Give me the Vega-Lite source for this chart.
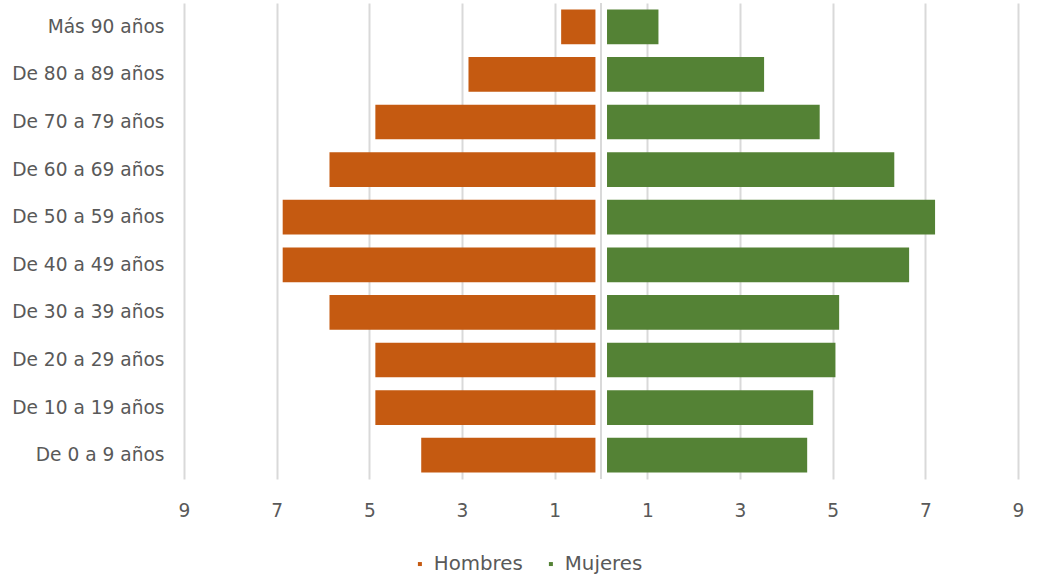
{
  "$schema": "https://vega.github.io/schema/vega-lite/v6.json",
  "width": 834,
  "height": 476,
  "autosize": {"type": "none"},
  "padding": {"left": 184, "top": 3, "right": 21, "bottom": 102},
  "background": "white",
  "config": {
    "view": {"stroke": null},
    "font": "DejaVu Sans"
  },
  "data": {
    "values": [
      {"edad": "Más 90 años", "sexo": "Hombres", "valor": 0.86},
      {"edad": "De 80 a 89 años", "sexo": "Hombres", "valor": 2.86},
      {"edad": "De 70 a 79 años", "sexo": "Hombres", "valor": 4.87},
      {"edad": "De 60 a 69 años", "sexo": "Hombres", "valor": 5.86},
      {"edad": "De 50 a 59 años", "sexo": "Hombres", "valor": 6.87},
      {"edad": "De 40 a 49 años", "sexo": "Hombres", "valor": 6.87},
      {"edad": "De 30 a 39 años", "sexo": "Hombres", "valor": 5.86},
      {"edad": "De 20 a 29 años", "sexo": "Hombres", "valor": 4.87},
      {"edad": "De 10 a 19 años", "sexo": "Hombres", "valor": 4.87},
      {"edad": "De 0 a 9 años", "sexo": "Hombres", "valor": 3.88},
      {"edad": "Más 90 años", "sexo": "Mujeres", "valor": 1.24},
      {"edad": "De 80 a 89 años", "sexo": "Mujeres", "valor": 3.52},
      {"edad": "De 70 a 79 años", "sexo": "Mujeres", "valor": 4.72},
      {"edad": "De 60 a 69 años", "sexo": "Mujeres", "valor": 6.33},
      {"edad": "De 50 a 59 años", "sexo": "Mujeres", "valor": 7.21},
      {"edad": "De 40 a 49 años", "sexo": "Mujeres", "valor": 6.65},
      {"edad": "De 30 a 39 años", "sexo": "Mujeres", "valor": 5.14},
      {"edad": "De 20 a 29 años", "sexo": "Mujeres", "valor": 5.06},
      {"edad": "De 10 a 19 años", "sexo": "Mujeres", "valor": 4.58},
      {"edad": "De 0 a 9 años", "sexo": "Mujeres", "valor": 4.45}
    ]
  },
  "encoding": {
    "y": {
      "field": "edad",
      "type": "nominal",
      "sort": ["Más 90 años", "De 80 a 89 años", "De 70 a 79 años", "De 60 a 69 años", "De 50 a 59 años", "De 40 a 49 años", "De 30 a 39 años", "De 20 a 29 años", "De 10 a 19 años", "De 0 a 9 años"],
      "scale": {"paddingInner": 0.27, "paddingOuter": 0.135},
      "axis": {
        "title": null,
        "domain": false,
        "ticks": false,
        "grid": false,
        "labelFont": "DejaVu Sans",
        "labelFontSize": 18.6,
        "labelColor": "#595959",
        "labelPadding": 20
      }
    }
  },
  "layer": [
    {
      "mark": {"type": "rule", "color": "#D9D9D9", "strokeWidth": 2},
      "encoding": {
        "x": {"datum": 0, "type": "quantitative"},
        "y": null
      }
    },
    {
      "transform": [
        {"filter": "datum.sexo === 'Hombres'"},
        {"calculate": "-datum.valor", "as": "posicion"}
      ],
      "mark": {"type": "bar"},
      "encoding": {
        "x": {
          "field": "posicion",
          "type": "quantitative",
          "scale": {"domain": [-9, 9], "nice": false, "zero": false},
          "axis": {
            "title": null,
            "values": [-9, -7, -5, -3, -1, 1, 3, 5, 7, 9],
            "labelExpr": "format(abs(datum.value), 'd')",
            "labelFlush": false,
            "labelOverlap": false,
            "domain": false,
            "ticks": false,
            "grid": true,
            "gridColor": "#D9D9D9",
            "gridWidth": 2,
            "labelFont": "DejaVu Sans",
            "labelFontSize": 18.6,
            "labelColor": "#595959",
            "labelPadding": 22
          }
        },
        "x2": {"datum": -0.12},
        "color": {
          "field": "sexo",
          "type": "nominal",
          "scale": {"domain": ["Hombres", "Mujeres"], "range": ["#C55A11", "#548235"]},
          "legend": {
            "title": null,
            "orient": "none",
            "direction": "horizontal",
            "legendX": 226,
            "legendY": 551,
            "symbolType": "square",
            "symbolSize": 16,
            "symbolStrokeWidth": 0,
            "labelFont": "DejaVu Sans",
            "labelFontSize": 19.8,
            "labelColor": "#595959",
            "labelOffset": 4,
            "columnPadding": 18,
            "padding": 0
          }
        }
      }
    },
    {
      "transform": [{"filter": "datum.sexo === 'Mujeres'"}],
      "mark": {"type": "bar"},
      "encoding": {
        "x": {"field": "valor", "type": "quantitative"},
        "x2": {"datum": 0.13},
        "color": {"field": "sexo", "type": "nominal"}
      }
    }
  ]
}
